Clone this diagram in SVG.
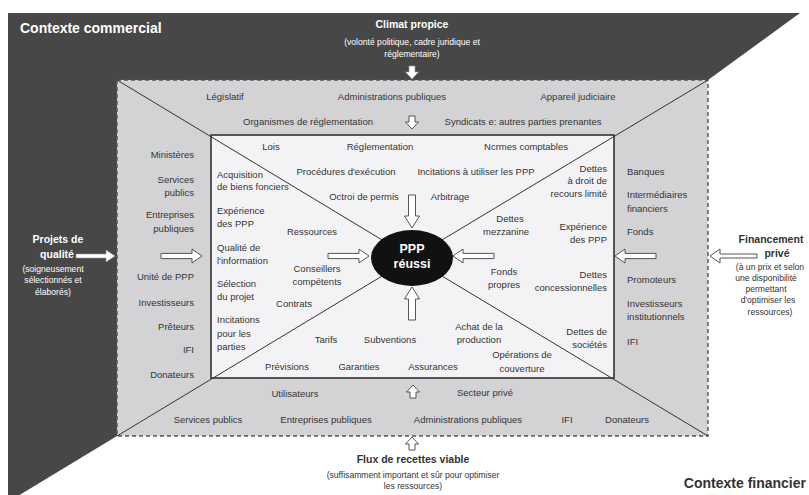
<svg xmlns="http://www.w3.org/2000/svg" width="809" height="495" viewBox="0 0 809 495">
<style>
text{font-family:"Liberation Sans",Arial,sans-serif;font-size:9.5px;fill:#333}
.c{text-anchor:middle}
.e{text-anchor:end}
.w{fill:#fff}
.hb{font-weight:bold;font-size:14px}
.b{font-weight:bold;font-size:10.5px}
.s{font-size:8.6px}
.ln{stroke:#333;stroke-width:1;fill:none}
.ha{fill:#fff;stroke:#444;stroke-width:0.9}
.wa{fill:#fff;stroke:#999;stroke-width:0.6}
</style>
<defs>
<path id="ar" d="M0,-2.6 H31 V-7 L41,0 L31,7 V2.6 H0 Z"/>
<path id="av" d="M-3.5,0 V21 H-7.5 L0,33 L7.5,21 H3.5 V0 Z"/>
<path id="as" d="M-3,0 V6 H-6.5 L0,13 L6.5,6 H3 V0 Z"/>
</defs>
<rect width="809" height="495" fill="#fff"/>
<g id="contexte">
<polygon points="8,13 800,13 708,80 117,80 117,436 8,502" fill="#474747"/>
<rect x="117" y="80" width="591" height="356" fill="#d3d3d5" stroke="#555" stroke-width="1.4" stroke-dasharray="4,3"/>
<rect x="211" y="135" width="403" height="243" fill="#f3f3f5"/>
</g>
<g id="connecteurs">
<line class="ln" x1="117" y1="80" x2="412" y2="258"/>
<line class="ln" x1="708" y1="80" x2="412" y2="258"/>
<line class="ln" x1="117" y1="436" x2="412" y2="258"/>
<line class="ln" x1="708" y1="436" x2="412" y2="258"/>
<rect x="211" y="135" width="403" height="243" fill="none" stroke="#333" stroke-width="1.6"/>
<use href="#as" class="wa" transform="translate(412,66)"/>
<use href="#as" class="ha" transform="translate(412,116)"/>
<use href="#av" class="ha" transform="translate(412,195)"/>
<use href="#av" class="ha" transform="translate(412,320) rotate(180)"/>
<use href="#ar" class="ha" transform="translate(328,256)"/>
<use href="#ar" class="ha" transform="translate(494,256) rotate(180)"/>
<use href="#ar" class="ha" transform="translate(161,256)"/>
<use href="#ar" class="ha" transform="translate(656,256) rotate(180)"/>
<use href="#as" class="ha" transform="translate(413,398) rotate(180)"/>
<use href="#as" class="ha" transform="translate(412,450) rotate(180)"/>
<path class="wa" d="M76,-2 H106 V-6 L115,0 L106,6 V2 H76 Z" transform="translate(0,256)"/>
<path class="ha" d="M757,-2 H720 V-7 L710,0 L720,7 V2 H757 Z" transform="translate(0,256)"/>
</g>
<g id="ppp">
<ellipse cx="412" cy="258" rx="41" ry="28" fill="#111"/>
<text class="c w" x="412" y="253" style="font-weight:bold;font-size:12.5px">PPP</text>
<text class="c w" x="412" y="268" style="font-weight:bold;font-size:12.5px">réussi</text>
</g>
<g id="titres">
<text class="hb w" x="20" y="33">Contexte commercial</text>
<text class="hb" x="806" y="488" text-anchor="end">Contexte financier</text>
<text class="b c w" x="412" y="28">Climat propice</text>
<text class="s c w" x="412" y="45">(volonté politique, cadre juridique et</text>
<text class="s c w" x="412" y="57">réglementaire)</text>
<text class="b c w" x="58" y="243">Projets de</text>
<text class="b c w" x="57" y="258">qualité</text>
<text class="s c w" x="53" y="272">(soigneusement</text>
<text class="s c w" x="53" y="283">sélectionnés et</text>
<text class="s c w" x="53" y="295">élaborés)</text>
<text class="b c" x="771" y="243">Financement</text>
<text class="b c" x="777" y="257">privé</text>
<text class="s c" x="770" y="270">(à un prix et selon</text>
<text class="s c" x="766" y="281">une disponibilité</text>
<text class="s c" x="766" y="292">permettant</text>
<text class="s c" x="768" y="303">d'optimiser les</text>
<text class="s c" x="770" y="315">ressources)</text>
<text class="b c" x="413" y="463">Flux de recettes viable</text>
<text class="s c" x="413" y="478">(suffisamment important et sûr pour optimiser</text>
<text class="s c" x="413" y="489">les ressources)</text>
</g>
<g id="exterieur-haut">
<text class="c" x="225" y="100">Législatif</text>
<text class="c" x="392" y="100">Administrations publiques</text>
<text class="c" x="578" y="100">Appareil judiciaire</text>
<text class="c" x="308" y="125">Organismes de réglementation</text>
<text class="c" x="523" y="125">Syndicats e: autres parties prenantes</text>
</g>
<g id="exterieur-gauche">
<text class="e" x="194" y="158">Ministères</text>
<text class="e" x="194" y="183">Services</text>
<text class="e" x="194" y="196">publics</text>
<text class="e" x="194" y="218">Entreprises</text>
<text class="e" x="194" y="232">publiques</text>
<text class="e" x="194" y="280">Unité de PPP</text>
<text class="e" x="194" y="306">Investisseurs</text>
<text class="e" x="194" y="330">Prêteurs</text>
<text class="e" x="194" y="353">IFI</text>
<text class="e" x="194" y="378">Donateurs</text>
</g>
<g id="exterieur-droite">
<text x="627" y="175">Banques</text>
<text x="627" y="198">Intermédiaires</text>
<text x="627" y="212">financiers</text>
<text x="627" y="235">Fonds</text>
<text x="627" y="283">Promoteurs</text>
<text x="627" y="307">Investisseurs</text>
<text x="627" y="320">institutionnels</text>
<text x="627" y="345">IFI</text>
</g>
<g id="exterieur-bas">
<text class="c" x="295" y="397">Utilisateurs</text>
<text class="c" x="485" y="396">Secteur privé</text>
<text class="c" x="208" y="423">Services publics</text>
<text class="c" x="326" y="423">Entreprises publiques</text>
<text class="c" x="468" y="423">Administrations publiques</text>
<text class="c" x="567" y="423">IFI</text>
<text class="c" x="627" y="423">Donateurs</text>
</g>
<g id="interieur-haut">
<text class="c" x="271" y="150">Lois</text>
<text class="c" x="380" y="150">Réglementation</text>
<text class="c" x="526" y="150">Ncrmes comptables</text>
<text class="c" x="346" y="175">Procédures d'exécution</text>
<text class="c" x="476" y="175">Incitations à utiliser les PPP</text>
<text class="c" x="364" y="200">Octroi de permis</text>
<text class="c" x="450" y="200">Arbitrage</text>
</g>
<g id="interieur-gauche">
<text x="217" y="178">Acquisition</text>
<text x="217" y="190">de biens fonciers</text>
<text x="217" y="214">Expérience</text>
<text x="217" y="227">des PPP</text>
<text x="217" y="251">Qualité de</text>
<text x="217" y="264">l'information</text>
<text x="217" y="287">Sélection</text>
<text x="217" y="300">du projet</text>
<text x="217" y="323">Incitations</text>
<text x="217" y="337">pour les</text>
<text x="217" y="350">parties</text>
<text class="c" x="312" y="235">Ressources</text>
<text class="c" x="317" y="272">Conseillers</text>
<text class="c" x="317" y="285">compétents</text>
<text class="c" x="294" y="307">Contrats</text>
</g>
<g id="interieur-droite">
<text class="e" x="607" y="172">Dettes</text>
<text class="e" x="607" y="184">à droit de</text>
<text class="e" x="607" y="197">recours limité</text>
<text class="c" x="510" y="222">Dettes</text>
<text class="c" x="506" y="235">mezzanine</text>
<text class="e" x="607" y="230">Expérience</text>
<text class="e" x="607" y="243">des PPP</text>
<text class="c" x="504" y="275">Fonds</text>
<text class="c" x="504" y="288">propres</text>
<text class="e" x="607" y="278">Dettes</text>
<text class="e" x="607" y="291">concessionnelles</text>
<text class="e" x="607" y="335">Dettes de</text>
<text class="e" x="607" y="348">sociétés</text>
</g>
<g id="interieur-bas">
<text class="c" x="479" y="330">Achat de la</text>
<text class="c" x="479" y="343">production</text>
<text class="c" x="326" y="343">Tarifs</text>
<text class="c" x="390" y="343">Subventions</text>
<text class="c" x="522" y="358">Opérations de</text>
<text class="c" x="522" y="372">couverture</text>
<text class="c" x="287" y="370">Prévisions</text>
<text class="c" x="359" y="370">Garanties</text>
<text class="c" x="433" y="370">Assurances</text>
</g>
</svg>
